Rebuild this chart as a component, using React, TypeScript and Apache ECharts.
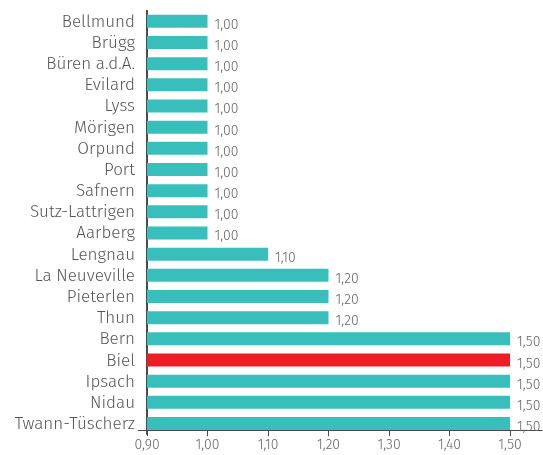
import React, { useEffect, useRef } from "react";
import * as echarts from "echarts";

const categories = [
  "Bellmund", "Brügg", "Büren a.d.A.", "Evilard", "Lyss", "Mörigen", "Orpund", "Port",
  "Safnern", "Sutz-Lattrigen", "Aarberg", "Lengnau", "La Neuveville", "Pieterlen", "Thun",
  "Bern", "Biel", "Ipsach", "Nidau", "Twann-Tüscherz",
];
const values = [
  1.0, 1.0, 1.0, 1.0, 1.0, 1.0, 1.0, 1.0, 1.0, 1.0, 1.0, 1.1, 1.2, 1.2, 1.2,
  1.5, 1.5, 1.5, 1.5, 1.5,
];
const highlighted = ["Biel"];
const xTicks = [0.9, 1.0, 1.1, 1.2, 1.3, 1.4, 1.5];

const TEAL = "#38bfbc";
const RED = "#ee1c25";
const AXIS = "#4f4a48";
const FONT = "'Fira Sans Light', 'Fira Sans', 'Open Sans', sans-serif";

const fmt = (v: number) => v.toFixed(2).replace(".", ",");

export default function App() {
  const ref = useRef<HTMLDivElement>(null);
  useEffect(() => {
    if (!ref.current) return;
    const chart = echarts.init(ref.current, undefined, { renderer: "svg" });
    chart.setOption({
      animation: false,
      textStyle: { fontFamily: FONT },
      grid: { left: 147, right: 1, top: 10.7, bottom: 20.9, containLabel: false },
      xAxis: {
        type: "value",
        min: 0.9,
        max: 0.9 + 395 / 605,
        offset: -4,
        splitLine: { show: false },
        axisLine: { show: true, lineStyle: { color: AXIS, width: 1 } },
        axisTick: {
          show: true,
          length: 6,
          customValues: xTicks,
          lineStyle: { color: AXIS },
        },
        axisLabel: {
          customValues: xTicks,
          formatter: (v: number) => fmt(v),
          color: "#666",
          fontSize: 14,
          fontWeight: 300,
          margin: 7,
        },
      },
      yAxis: {
        type: "category",
        inverse: true,
        data: categories,
        axisLine: { show: true, lineStyle: { color: AXIS, width: 2 } },
        axisTick: { show: false },
        axisLabel: {
          interval: 0,
          color: "#555",
          fontSize: 17,
          fontWeight: 300,
          margin: 12,
        },
      },
      graphic: [
        {
          type: "line",
          shape: { x1: 138, y1: 430.5, x2: 147, y2: 430.5 },
          style: { stroke: AXIS, lineWidth: 1 },
        },
      ],
      series: [
        {
          type: "bar",
          barWidth: 13,
          data: values.map((v, i) => ({
            value: v,
            itemStyle: { color: highlighted.includes(categories[i]) ? RED : TEAL },
          })),
          label: {
            show: true,
            position: "right",
            distance: 7,
            offset: [0, 3],
            formatter: (p: any) => fmt(p.value),
            color: "#666",
            fontSize: 14,
            fontWeight: 300,
          },
        },
      ],
    });
    return () => chart.dispose();
  }, []);
  return (
    <div
      ref={ref}
      style={{ position: "fixed", left: 0, top: 0, width: 543, height: 455 }}
    />
  );
}
